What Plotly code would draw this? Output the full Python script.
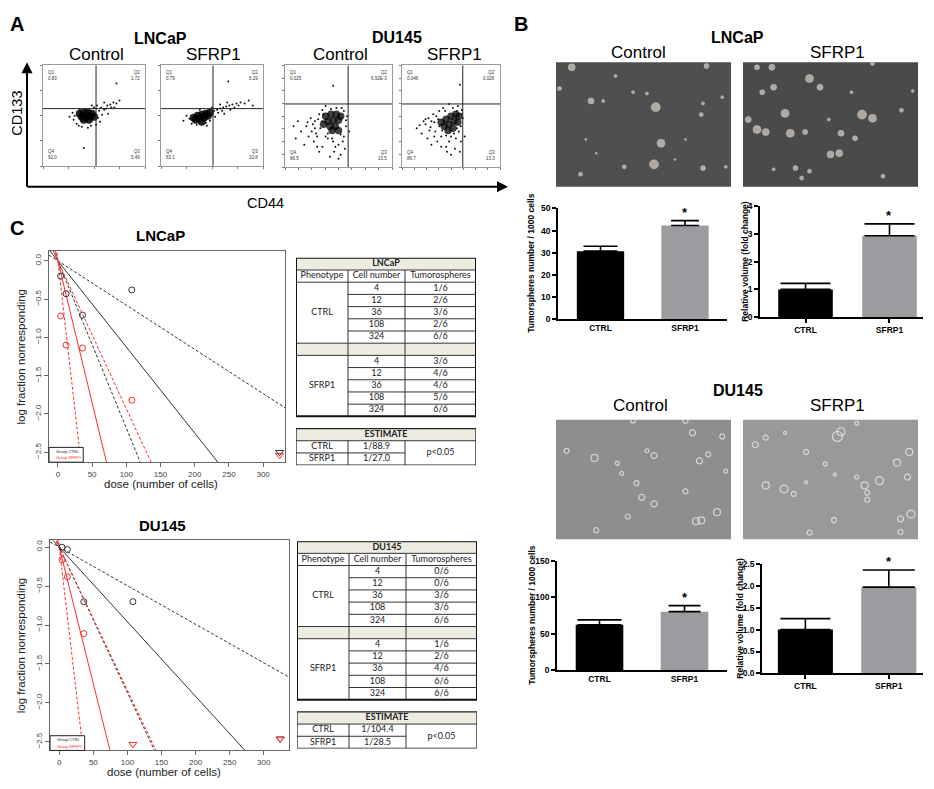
import plotly.graph_objects as go

# the page puts the figure 8px in from the window corner, so the figure is
# sized to the visible area and all reference pixel positions are shifted by OFF
OFF = 8
W, H = 934 - OFF, 789 - OFF

# ---------------- A: flow cytometry (CD44 vs CD133) ----------------
flow_q1 = ["0.83", "0.79", "0.025", "0.046"]
flow_q2 = ["1.72", "5.29", "6.92E-3", "0.026"]
flow_q3 = ["5.49", "10.8", "13.5", "13.3"]
flow_q4 = ["92.0", "83.1", "86.5", "86.7"]
flow_gate_x = [52, 51, 59, 62]
flow_gate_y = [57, 57, 62, 62]

lncap_ctrl_core_x = [36, 40, 44, 48, 38, 42, 46, 50, 40, 45]
lncap_ctrl_core_y = [52, 53, 53, 52, 49, 49, 49, 49, 46, 46]
lncap_ctrl_dot_x = [30, 29, 33, 55, 57, 60, 63, 66, 69, 72, 54, 52, 35, 38, 58, 62, 50, 47, 56, 64, 67, 75, 53, 31, 44, 60, 70, 48, 26, 36, 40, 72]
lncap_ctrl_dot_y = [46, 53, 42, 55, 58, 56, 60, 61, 63, 62, 48, 41, 40, 39, 51, 57, 58, 40, 44, 52, 58, 65, 60, 50, 38, 63, 58, 60, 49, 56, 18, 82]

lncap_sfrp1_core_x = [32, 36, 40, 44, 48, 34, 38, 42, 46, 40]
lncap_sfrp1_core_y = [48, 50, 51, 52, 53, 46, 47, 48, 50, 44]
lncap_sfrp1_dot_x = [52, 55, 58, 61, 64, 67, 70, 74, 78, 82, 86, 56, 60, 65, 72, 50, 28, 25, 30, 35, 44, 48, 53, 62, 68, 76, 45, 38, 58, 90, 22, 66]
lncap_sfrp1_dot_y = [55, 56, 57, 58, 59, 60, 61, 62, 63, 62, 65, 53, 55, 63, 58, 58, 47, 50, 42, 41, 43, 45, 49, 52, 56, 60, 40, 56, 61, 60, 45, 84]

du_ctrl_core_x = [38, 43, 48, 52, 40, 45, 50, 42, 47, 36, 44, 50]
du_ctrl_core_y = [50, 52, 52, 50, 45, 46, 46, 40, 40, 42, 36, 36]
du_ctrl_dot_x = [20, 25, 28, 30, 32, 27, 24, 33, 35, 30, 22, 15, 10, 18, 38, 40, 45, 50, 55, 57, 58, 53, 48, 43, 38, 35, 32, 46, 52, 56, 60, 42, 28, 35, 50, 55, 12, 8, 47, 54, 45, 26, 31, 40, 44, 52, 57, 36, 29, 21]
du_ctrl_dot_y = [40, 35, 45, 30, 52, 25, 48, 38, 56, 20, 30, 35, 28, 22, 60, 28, 25, 22, 30, 40, 50, 58, 58, 57, 30, 20, 15, 15, 12, 18, 35, 10, 38, 45, 8, 55, 45, 40, 20, 25, 80, 42, 47, 33, 28, 32, 46, 52, 33, 44]

du_sfrp1_core_x = [40, 45, 50, 55, 58, 43, 48, 53, 57, 47, 52]
du_sfrp1_core_y = [44, 47, 50, 52, 50, 40, 42, 45, 44, 36, 38]
du_sfrp1_dot_x = [15, 20, 24, 28, 30, 33, 35, 38, 26, 22, 30, 36, 40, 42, 45, 48, 50, 55, 58, 60, 61, 57, 52, 44, 38, 34, 32, 46, 54, 60, 18, 27, 40, 50, 56, 62, 64, 59, 48, 43, 59, 33, 37, 41, 53, 56, 29, 24, 45, 61]
du_sfrp1_dot_y = [38, 33, 42, 36, 45, 30, 50, 55, 28, 45, 22, 25, 30, 58, 20, 25, 30, 28, 35, 40, 56, 60, 58, 55, 40, 35, 52, 15, 18, 25, 41, 48, 20, 12, 55, 48, 30, 15, 62, 45, 81, 44, 47, 36, 33, 38, 39, 47, 31, 52]

# ---------------- B: tumorsphere photos (sphere positions) ----------------
lncap_ctrl_sph_x = [9, 20, 57, 60, 56, 84, 84, 14, 34, 44, 52, 83, 2, 27, 95, 68, 97, 86, 17, 39, 23, 74]
lncap_ctrl_sph_y = [96, 69, 64, 35, 18, 67, 15, 10, 89, 76, 75, 58, 79, 69, 72, 22, 16, 97, 38, 16, 27, 38]
lncap_ctrl_sph_s = [7, 6, 9, 8, 9, 3, 5, 4, 3, 3, 3, 4, 4, 3, 3, 2, 3, 5, 2, 4, 2, 2]

lncap_sfrp1_sph_x = [8, 16.5, 38, 44, 17.5, 11, 24, 3, 8, 13, 27, 35.5, 68, 74, 56, 64, 50, 55, 30, 33.5, 38, 90.5, 74, 97, 80, 49, 62, 17.5]
lncap_sfrp1_sph_y = [96, 96, 87, 80, 80, 76, 59, 54, 46, 44, 43, 44, 58, 55, 43, 39, 26, 27, 15, 7, 12.5, 61.5, 99, 77, 8.5, 54, 76, 14]
lncap_sfrp1_sph_s = [5, 6, 8, 6, 6, 5, 8, 6, 8, 7, 8, 5, 9, 8, 6, 5, 7, 7, 5, 4, 4, 4, 4, 3, 4, 3, 3, 3]

du_ctrl_sph_x = [22, 56, 52, 78, 74, 95, 82, 87, 6, 35, 37.5, 46, 49, 56, 74, 92, 80, 83, 41, 23, 44, 97]
du_ctrl_sph_y = [68, 70, 74, 89, 99, 86, 65.5, 71, 74, 63.5, 55, 47, 35, 29.5, 40, 22.6, 15, 15.7, 19, 7.5, 99.4, 57]
du_ctrl_sph_s = [7, 6, 4, 6, 5, 5, 6, 5, 5, 4, 4, 5, 6, 6, 5, 7, 7, 7, 5, 5, 5, 4]

du_sfrp1_sph_x = [54, 56, 7, 13, 24, 36, 95, 88, 94, 65, 78, 69.5, 71, 71, 13, 23.5, 29, 36, 96, 90, 52, 38, 47, 52.5, 90, 65]
du_sfrp1_sph_y = [86, 90, 79, 85, 89, 73, 73, 64, 52, 52, 49, 45, 39, 33, 45, 42, 38, 47.5, 21, 17, 16, 5.5, 63, 54, 6, 97]
du_sfrp1_sph_s = [10, 8, 6, 5, 3, 5, 7, 7, 6, 4, 8, 7, 5, 5, 7, 8, 5, 3, 8, 6, 5, 5, 4, 3, 5, 4]

# ---------------- B: bar charts ----------------
groups = ["CTRL", "SFRP1"]
lncap_spheres = [30.7, 42.3]
lncap_spheres_err = [2.2, 2.2]
lncap_volume = [1.0, 2.94]
lncap_volume_err = [0.22, 0.43]
du_spheres = [62.5, 80.5]
du_spheres_err = [6.8, 8.2]
du_volume = [1.0, 1.97]
du_volume_err = [0.25, 0.39]

# ---------------- C: limiting dilution (ELDA) ----------------
doses = [4, 12, 36, 108, 324]
lncap_ctrl_dose = [4, 12, 36, 108]
lncap_ctrl_logfrac = [-0.2, -0.43, -0.71, -0.38]
lncap_sfrp1_dose = [4, 12, 36, 108]
lncap_sfrp1_logfrac = [-0.72, -1.1, -1.14, -1.82]
lncap_ctrl_all_dose = [324]
lncap_ctrl_all_y = [-2.5]
lncap_sfrp1_all_dose = [324]
lncap_sfrp1_all_y = [-2.54]
lncap_est = [88.9, 27.0]          # cells per sphere (CTRL, SFRP1)
lncap_ci_low = [45.8, 12.8]
lncap_ci_high = [173.0, 51.8]

du_ctrl_dose = [4, 12, 36, 108]
du_ctrl_logfrac = [0.0, -0.03, -0.7, -0.7]
du_sfrp1_dose = [4, 12, 36]
du_sfrp1_logfrac = [-0.16, -0.38, -1.11]
du_ctrl_all_dose = [324]
du_ctrl_all_y = [-2.46]
du_sfrp1_all_dose = [108, 324]
du_sfrp1_all_y = [-2.53, -2.46]
du_est = [104.4, 28.5]
du_ci_low = [53.5, 13.4]
du_ci_high = [202.0, 54.4]

# tables
lncap_ctrl_tum = ["1/6", "2/6", "3/6", "2/6", "6/6"]
lncap_sfrp1_tum = ["3/6", "4/6", "4/6", "5/6", "6/6"]
lncap_est_txt = ["1/88.9", "1/27.0"]
du_ctrl_tum = ["0/6", "0/6", "3/6", "3/6", "6/6"]
du_sfrp1_tum = ["1/6", "2/6", "4/6", "6/6", "6/6"]
du_est_txt = ["1/104.4", "1/28.5"]
p_text = "p<0.05"

# ======================================================================
fig = go.Figure()
lay = dict(width=W, height=H, margin=dict(l=0, r=0, t=0, b=0), paper_bgcolor="white",
           plot_bgcolor="rgba(0,0,0,0)", showlegend=False, barmode="overlay",
           font=dict(family="Liberation Sans, Arial", color="black"))
ann = []
shp = []


def fx(x):
    return (x - OFF) / W


def fy(y):
    return 1 - (y - OFF) / H


def ref(n):
    return ("x" if n == 1 else f"x{n}"), ("y" if n == 1 else f"y{n}")


def add_axes(n, x0, x1, y0, y1, xa=None, ya=None):
    xr, yr = ref(n)
    xd = dict(showgrid=False, zeroline=False, domain=[fx(x0), fx(x1)], anchor=yr)
    yd = dict(showgrid=False, zeroline=False, domain=[fy(y1), fy(y0)], anchor=xr)
    xd.update(xa or {})
    yd.update(ya or {})
    lay["xaxis" if n == 1 else f"xaxis{n}"] = xd
    lay["yaxis" if n == 1 else f"yaxis{n}"] = yd
    return xr, yr


def label(s, x, y, size, bold=False, color="black", angle=0, family=None):
    f = dict(size=size, color=color)
    if family:
        f["family"] = family
    ann.append(dict(text=f"<b>{s}</b>" if bold else s, x=fx(x), y=fy(y), xref="paper", yref="paper",
                    showarrow=False, font=f, textangle=angle, xanchor="center", yanchor="middle"))


# ---------------- panel A ----------------
label("A", 17, 19, 20, bold=True)
label("LNCaP", 160, 34, 16, bold=True)
label("DU145", 397, 33, 16, bold=True)
for s, x in zip(["Control", "SFRP1", "Control", "SFRP1"], [96, 213, 340, 454]):
    label(s, x, 50, 17)
label("CD133", 17, 110, 14.5, angle=-90)
label("CD44", 265, 200, 14.5)
ann.append(dict(text="", x=fx(27), y=fy(58), xref="paper", yref="paper", ax=0, ay=126,
                showarrow=True, arrowhead=2, arrowsize=1.1, arrowwidth=2, arrowcolor="black"))
ann.append(dict(text="", x=fx(508), y=fy(184), xref="paper", yref="paper", ax=-482, ay=0,
                showarrow=True, arrowhead=2, arrowsize=1.1, arrowwidth=2, arrowcolor="black"))

flow_boxes = [(43, 145, 61, 163), (161, 263, 61, 163), (285, 392, 61, 164), (402, 500, 61, 164)]
flow_core = [(lncap_ctrl_core_x, lncap_ctrl_core_y), (lncap_sfrp1_core_x, lncap_sfrp1_core_y),
             (du_ctrl_core_x, du_ctrl_core_y), (du_sfrp1_core_x, du_sfrp1_core_y)]
flow_dots = [(lncap_ctrl_dot_x, lncap_ctrl_dot_y), (lncap_sfrp1_dot_x, lncap_sfrp1_dot_y),
             (du_ctrl_dot_x, du_ctrl_dot_y), (du_sfrp1_dot_x, du_sfrp1_dot_y)]
for i, (x0, x1, y0, y1) in enumerate(flow_boxes):
    frame = dict(range=[0, 100], showline=True, mirror=True, linecolor="#9a9a9a", linewidth=1,
                 ticks="outside", ticklen=2, tickcolor="#777", showticklabels=False,
                 tick0=0, dtick=12.5 if i >= 2 else 25)
    xr, yr = add_axes(i + 1, x0, x1, y0, y1, frame, frame)
    fig.add_trace(go.Scatter(x=flow_dots[i][0], y=flow_dots[i][1], mode="markers", xaxis=xr, yaxis=yr,
                             marker=dict(size=2, color="#111")))
    fig.add_trace(go.Scatter(x=flow_core[i][0], y=flow_core[i][1], mode="markers", xaxis=xr, yaxis=yr,
                             marker=dict(size=8 if i < 2 else 7.5, color="black", opacity=0.85 if i < 2 else 0.75)))
    g = dict(color="#222", width=1)
    shp.append(dict(type="line", xref=xr, yref=yr, x0=flow_gate_x[i], x1=flow_gate_x[i], y0=0, y1=100, line=g))
    shp.append(dict(type="line", xref=xr, yref=yr, x0=0, x1=100, y0=flow_gate_y[i], y1=flow_gate_y[i], line=g))
    qf = dict(size=4.5, color="#333")
    for txt, qx, qy, xa, ya in [(f"Q1<br>{flow_q1[i]}", 3, 97, "left", "top"),
                                (f"Q2<br>{flow_q2[i]}", 97, 97, "right", "top"),
                                (f"Q4<br>{flow_q4[i]}", 3, 4, "left", "bottom"),
                                (f"Q3<br>{flow_q3[i]}", 97, 4, "right", "bottom")]:
        ann.append(dict(text=txt, x=qx, y=qy, xref=xr, yref=yr, showarrow=False, font=qf,
                        xanchor=xa, yanchor=ya, align=xa))

# ---------------- panel B ----------------
label("B", 521, 19, 20, bold=True)
label("LNCaP", 737, 33, 16, bold=True)
label("Control", 638, 48, 17)
label("SFRP1", 837, 48, 17)
label("DU145", 738, 390, 16, bold=True)
label("Control", 640, 406, 17)
label("SFRP1", 837, 406, 17)

photos = [
    (5, (556, 731, 58, 184), "#4f4f4f", lncap_ctrl_sph_x, lncap_ctrl_sph_y, lncap_ctrl_sph_s, False),
    (6, (743, 918, 58, 184), "#4a4a4a", lncap_sfrp1_sph_x, lncap_sfrp1_sph_y, lncap_sfrp1_sph_s, False),
    (9, (556, 731, 420, 541), "#8e8e8e", du_ctrl_sph_x, du_ctrl_sph_y, du_ctrl_sph_s, True),
    (10, (743, 918, 420, 541), "#999999", du_sfrp1_sph_x, du_sfrp1_sph_y, du_sfrp1_sph_s, True),
]
for n, (x0, x1, y0, y1), bg, sx, sy, ss, ring in photos:
    hid = dict(range=[0, 100], visible=False)
    xr, yr = add_axes(n, x0, x1, y0, y1, hid, hid)
    shp.append(dict(type="rect", xref=f"{xr} domain", yref=f"{yr} domain", x0=0, x1=1, y0=0, y1=1,
                    fillcolor=bg, line=dict(width=0), layer="below"))
    if ring:
        mk = dict(size=ss, symbol="circle-open", color="#f2f2f2", line=dict(width=1.2, color="#f2f2f2"))
    else:
        mk = dict(size=ss, color="#d9d1c6", line=dict(width=0.6, color="#f5f1ea"))
    fig.add_trace(go.Scatter(x=sx, y=sy, mode="markers", marker=mk, xaxis=xr, yaxis=yr, cliponaxis=True))

bars = [
    (7, (558, 727, 206, 318), lncap_spheres, lncap_spheres_err, [0, 50], 10, None, [-0.503, 1.497], 0.56,
     "Tumorspheres number / 1000 cells", 531, [17, 14], False),
    (8, (760, 923, 204, 316), lncap_volume, lncap_volume_err, [0, 4], 1, None, [-0.542, 1.399], 0.65,
     "Relative volume (fold change)", 745, [25, 25], True),
    (11, (557, 727, 563, 674), du_spheres, du_spheres_err, [0, 150], 50, None, [-0.5, 1.5], 0.56,
     "Tumorspheres number / 1000 cells", 532, [22, 16], False),
    (12, (762, 923, 566, 677), du_volume, du_volume_err, [0, 2.5], 0.5, ".1f", [-0.52, 1.41], 0.66,
     "Relative volume (fold change)", 740, [25, 26], True),
]
bold_tick = dict(size=8.5, weight="bold", color="black")
for n, (x0, x1, y0, y1), vals, errs, yrng, dt, fmt, xrng, bw, ytitle, tx, capw, xt in bars:
    xa = dict(type="category", range=xrng, showline=True, linecolor="black", linewidth=1.5,
              ticks="outside" if xt else "", ticklen=4, tickwidth=1.5, tickcolor="black", tickfont=bold_tick)
    ya = dict(range=yrng, dtick=dt, tick0=0, showline=True, linecolor="black", linewidth=1.5,
              ticks="outside", ticklen=4, tickwidth=1.5, tickcolor="black", tickfont=bold_tick)
    if fmt:
        ya["tickformat"] = fmt
    xr, yr = add_axes(n, x0, x1, y0, y1, xa, ya)
    for k, col in enumerate(["black", "#9c9ca0"]):
        fig.add_trace(go.Bar(x=[groups[k]], y=[vals[k]], width=bw, marker=dict(color=col, line=dict(width=0)),
                             error_y=dict(type="data", array=[errs[k]], arrayminus=[0], symmetric=False,
                                          color="black", thickness=1.6, width=capw[k]),
                             xaxis=xr, yaxis=yr))
    ann.append(dict(text="<b>*</b>", x=1, y=vals[1] + errs[1], xref=xr, yref=yr, showarrow=False,
                    yanchor="bottom", font=dict(size=13), yshift=-1))
    label(ytitle, tx, (y0 + y1) / 2, 8.5, bold=True, angle=-90)

# ---------------- panel C ----------------
label("C", 17, 226, 20, bold=True)
red = "#ff2a2a"
grey = "#333333"
eldas = [
    (13, (49, 285, 249, 463), [-13, 332], [-2.63, 0.13], "LNCaP", 233,
     lncap_ctrl_dose, lncap_ctrl_logfrac, lncap_sfrp1_dose, lncap_sfrp1_logfrac,
     lncap_ctrl_all_dose, lncap_ctrl_all_y, lncap_sfrp1_all_dose, lncap_sfrp1_all_y,
     lncap_est, lncap_ci_low, lncap_ci_high),
    (14, (50, 289, 542, 755), [-13.6, 337], [-2.61, 0.09], "DU145", 527,
     du_ctrl_dose, du_ctrl_logfrac, du_sfrp1_dose, du_sfrp1_logfrac,
     du_ctrl_all_dose, du_ctrl_all_y, du_sfrp1_all_dose, du_sfrp1_all_y,
     du_est, du_ci_low, du_ci_high),
]
yt = [0, -0.5, -1, -1.5, -2, -2.5]
for (n, (x0, x1, y0, y1), xrng, yrng, ttl, ty, cd, cy, sd, sy, cad, cay, sad, say, est, lo, hi) in eldas:
    common = dict(showline=True, mirror=True, linecolor="#666", linewidth=1, ticks="outside", ticklen=4,
                  tickcolor="#666", tickfont=dict(size=8, color="#444"))
    xa = dict(common, range=xrng, tickvals=[0, 50, 100, 150, 200, 250, 300])
    ya = dict(common, range=yrng, tickvals=yt, ticktext=[f"{v:.1f}".replace("-", "\u2212") for v in yt],
              tickangle=-90)
    xr, yr = add_axes(n, x0, x1, y0, y1, xa, ya)
    label(ttl, (x0 + x1) / 2 - 7, ty, 15, bold=True)
    label("log fraction nonresponding", 21, (y0 + y1) / 2, 11.5, angle=-90, color="#222")
    label("dose (number of cells)", (x0 + x1) / 2 - 6, y1 + 22, 11.5, color="#222")
    for k, col in enumerate([grey, red]):
        for e, dash in [(est[k], "solid"), (lo[k], "dash"), (hi[k], "dash")]:
            fig.add_trace(go.Scatter(x=xrng, y=[-v / e for v in xrng], mode="lines", xaxis=xr, yaxis=yr,
                                     line=dict(color=col, width=1, dash="solid" if dash == "solid" else "3px,2px")))
    fig.add_trace(go.Scatter(x=cd, y=cy, mode="markers", xaxis=xr, yaxis=yr,
                             marker=dict(symbol="circle-open", size=6, color=grey, line=dict(width=1))))
    fig.add_trace(go.Scatter(x=cad, y=cay, mode="markers", xaxis=xr, yaxis=yr,
                             marker=dict(symbol="triangle-down-open", size=7, color=grey, line=dict(width=1))))
    fig.add_trace(go.Scatter(x=sd, y=sy, mode="markers", xaxis=xr, yaxis=yr,
                             marker=dict(symbol="circle-open", size=6, color=red, line=dict(width=1))))
    fig.add_trace(go.Scatter(x=sad, y=say, mode="markers", xaxis=xr, yaxis=yr,
                             marker=dict(symbol="triangle-down-open", size=7, color=red, line=dict(width=1))))
    shp.append(dict(type="rect", xref=f"{xr} domain", yref=f"{yr} domain", x0=0, x1=0.145, y0=0, y1=0.07,
                    line=dict(color="#222", width=1), fillcolor="white"))
    for txt, yy, col in [("Group CTRL", 0.05, "#222"), ("Group SFRP1", 0.02, red)]:
        ann.append(dict(text=txt, x=0.02, y=yy, xref=f"{xr} domain", yref=f"{yr} domain", showarrow=False,
                        xanchor="left", yanchor="middle", font=dict(size=4, color=col)))

# tables (drawn on hidden axes: x in column units, y in row units)
col_edges = [0, 52, 109, 180]
col_mid = [26, 80.5, 144.5]
beige = "#eeece1"
tables = [
    (15, (296, 476, 256, 466), "LNCaP", lncap_ctrl_tum, lncap_sfrp1_tum, lncap_est_txt),
    (16, (297, 477, 543, 753), "DU145", du_ctrl_tum, du_sfrp1_tum, du_est_txt),
]
for n, (x0, x1, y0, y1), name, ctum, stum, etxt in tables:
    xr, yr = add_axes(n, x0, x1, y0, y1, dict(range=[0, 180], visible=False), dict(range=[17, 0], visible=False))
    for r in [0, 7, 14]:
        shp.append(dict(type="rect", xref=xr, yref=yr, x0=0, x1=180, y0=r, y1=r + 1, fillcolor=beige,
                        line=dict(width=0), layer="below"))
    thin = dict(color="#333", width=1)
    for r in [1, 2, 7, 8, 15]:
        shp.append(dict(type="line", xref=xr, yref=yr, x0=0, x1=180, y0=r, y1=r, line=thin))
    for r in [3, 4, 5, 6, 9, 10, 11, 12]:
        shp.append(dict(type="line", xref=xr, yref=yr, x0=col_edges[1], x1=180, y0=r, y1=r, line=thin))
    shp.append(dict(type="line", xref=xr, yref=yr, x0=0, x1=col_edges[2], y0=16, y1=16, line=thin))
    for c in col_edges[1:3]:
        shp.append(dict(type="line", xref=xr, yref=yr, x0=c, x1=c, y0=1, y1=13, line=thin))
        shp.append(dict(type="line", xref=xr, yref=yr, x0=c, x1=c, y0=15, y1=17, line=thin))
    shp.append(dict(type="rect", xref=xr, yref=yr, x0=0, x1=180, y0=0, y1=13, line=dict(color="#111", width=2)))
    shp.append(dict(type="rect", xref=xr, yref=yr, x0=0, x1=180, y0=14, y1=17, line=dict(color="#222", width=1.3)))

    tx, ty, tt = [], [], []
    tx += [90, col_mid[0], col_mid[1], col_mid[2]]
    ty += [0.5, 1.5, 1.5, 1.5]
    tt += [f"<b>{name}</b>", "Phenotype", "Cell number", "Tumorospheres"]
    tx += [col_mid[0], col_mid[0]]
    ty += [4.5, 10.5]
    tt += ["CTRL", "SFRP1"]
    for i, d in enumerate(doses):
        tx += [col_mid[1], col_mid[2], col_mid[1], col_mid[2]]
        ty += [2.5 + i, 2.5 + i, 8.5 + i, 8.5 + i]
        tt += [str(d), ctum[i], str(d), stum[i]]
    tx += [90, col_mid[0], col_mid[0], col_mid[1], col_mid[1], col_mid[2]]
    ty += [14.5, 15.5, 16.5, 15.5, 16.5, 16]
    tt += ["<b>ESTIMATE</b>", "CTRL", "SFRP1", etxt[0], etxt[1], p_text]
    fig.add_trace(go.Scatter(x=tx, y=ty, text=tt, mode="text", xaxis=xr, yaxis=yr,
                             textfont=dict(family="Lato", size=9, color="#222")))

lay["annotations"] = ann
lay["shapes"] = shp
fig.update_layout(**lay)
fig.write_html("out.html")
